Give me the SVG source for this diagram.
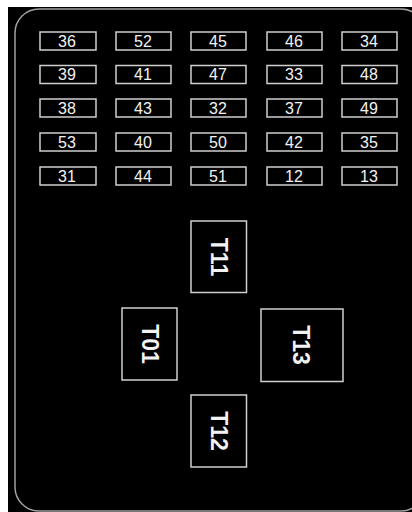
<svg xmlns="http://www.w3.org/2000/svg" width="412" height="512" viewBox="0 0 412 512">
<style>
.bg{fill:#000}
.frame{fill:none;stroke:#a0a0a0;stroke-width:1.5}
.fuse{fill:#000;stroke:#cfcfcf;stroke-width:1.5}
.relay{fill:#000;stroke:#cfcfcf;stroke-width:1.5}
.lbl{fill:#f2f2f2;font-family:"Liberation Sans",Arial,sans-serif;font-size:16px;text-anchor:middle;dominant-baseline:central}
.big{fill:#f2f2f2;font-family:"Liberation Sans",Arial,sans-serif;font-size:23px;font-weight:bold;text-anchor:middle;dominant-baseline:central}
</style>
<rect x="0" y="0" width="412" height="512" fill="#fff"/>
<rect class="bg" x="8" y="7" width="404" height="505"/>
<rect class="frame" x="15" y="9" width="410" height="502" rx="24" ry="24"/>
<g id="fuses">
<g id="f36"><rect class="fuse" x="40" y="32" width="56" height="18"/><text class="lbl" x="67" y="41">36</text></g>
<g id="f52"><rect class="fuse" x="116" y="32" width="55" height="18"/><text class="lbl" x="143" y="41">52</text></g>
<g id="f45"><rect class="fuse" x="191" y="32" width="55" height="18"/><text class="lbl" x="218" y="41">45</text></g>
<g id="f46"><rect class="fuse" x="267" y="32" width="55" height="18"/><text class="lbl" x="294" y="41">46</text></g>
<g id="f34"><rect class="fuse" x="342" y="32" width="55" height="18"/><text class="lbl" x="369" y="41">34</text></g>

<g id="f39"><rect class="fuse" x="40" y="65.5" width="56" height="18"/><text class="lbl" x="67" y="74.5">39</text></g>
<g id="f41"><rect class="fuse" x="116" y="65.5" width="55" height="18"/><text class="lbl" x="143" y="74.5">41</text></g>
<g id="f47"><rect class="fuse" x="191" y="65.5" width="55" height="18"/><text class="lbl" x="218" y="74.5">47</text></g>
<g id="f33"><rect class="fuse" x="267" y="65.5" width="55" height="18"/><text class="lbl" x="294" y="74.5">33</text></g>
<g id="f48"><rect class="fuse" x="342" y="65.5" width="55" height="18"/><text class="lbl" x="369" y="74.5">48</text></g>

<g id="f38"><rect class="fuse" x="40" y="99" width="56" height="18"/><text class="lbl" x="67" y="108">38</text></g>
<g id="f43"><rect class="fuse" x="116" y="99" width="55" height="18"/><text class="lbl" x="143" y="108">43</text></g>
<g id="f32"><rect class="fuse" x="191" y="99" width="55" height="18"/><text class="lbl" x="218" y="108">32</text></g>
<g id="f37"><rect class="fuse" x="267" y="99" width="55" height="18"/><text class="lbl" x="294" y="108">37</text></g>
<g id="f49"><rect class="fuse" x="342" y="99" width="55" height="18"/><text class="lbl" x="369" y="108">49</text></g>

<g id="f53"><rect class="fuse" x="40" y="133" width="56" height="18"/><text class="lbl" x="67" y="142">53</text></g>
<g id="f40"><rect class="fuse" x="116" y="133" width="55" height="18"/><text class="lbl" x="143" y="142">40</text></g>
<g id="f50"><rect class="fuse" x="191" y="133" width="55" height="18"/><text class="lbl" x="218" y="142">50</text></g>
<g id="f42"><rect class="fuse" x="267" y="133" width="55" height="18"/><text class="lbl" x="294" y="142">42</text></g>
<g id="f35"><rect class="fuse" x="342" y="133" width="55" height="18"/><text class="lbl" x="369" y="142">35</text></g>

<g id="f31"><rect class="fuse" x="40" y="167" width="56" height="18"/><text class="lbl" x="67" y="176">31</text></g>
<g id="f44"><rect class="fuse" x="116" y="167" width="55" height="18"/><text class="lbl" x="143" y="176">44</text></g>
<g id="f51"><rect class="fuse" x="191" y="167" width="55" height="18"/><text class="lbl" x="218" y="176">51</text></g>
<g id="f12"><rect class="fuse" x="267" y="167" width="55" height="18"/><text class="lbl" x="294" y="176">12</text></g>
<g id="f13"><rect class="fuse" x="342" y="167" width="55" height="18"/><text class="lbl" x="369" y="176">13</text></g>
</g>
<g id="relays">
<g id="T11"><rect class="relay" x="191" y="221" width="55.5" height="71.5"/><text class="big" transform="translate(219,257) rotate(90)">T11</text></g>
<g id="T01"><rect class="relay" x="122" y="308" width="55" height="72"/><text class="big" transform="translate(149.5,344) rotate(90)">T01</text></g>
<g id="T13"><rect class="relay" x="261" y="309" width="82" height="72.5"/><text class="big" transform="translate(301,345) rotate(90)">T13</text></g>
<g id="T12"><rect class="relay" x="191" y="395" width="55.5" height="72"/><text class="big" transform="translate(219,431) rotate(90)">T12</text></g>
</g>
<g id="connectors"/>
</svg>
